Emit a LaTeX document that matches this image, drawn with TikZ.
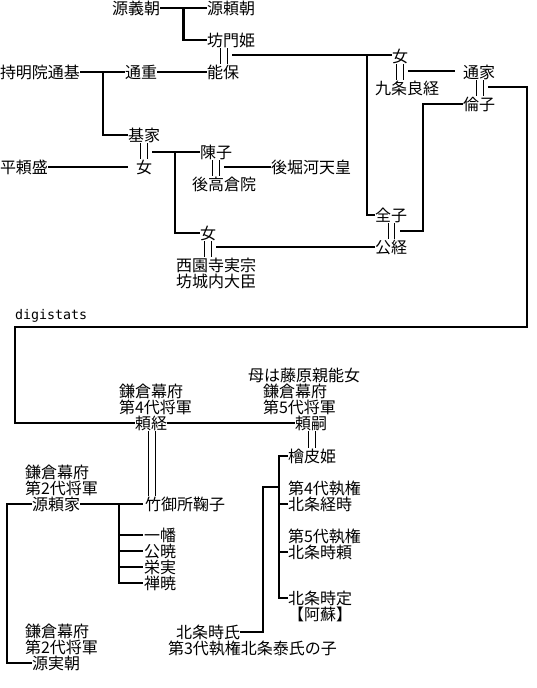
\documentclass[tikz,border=0pt]{standalone}
\usepackage{fontspec}
\setmainfont{Noto Sans CJK JP}
\newfontfamily\monof{DejaVu Sans Mono}
\usetikzlibrary{calc}
\tikzset{
  nm/.style={inner sep=0pt, outer sep=0pt, anchor=west, text height=14pt, text depth=2pt, font=\fontsize{16pt}{16pt}\selectfont},
  ln/.style={line width=2.4pt},
  dl/.style={line width=1pt},
}
\begin{document}
\begin{tikzpicture}[x=1pt,y=-1pt]
\fill[white] (0,0) rectangle (536,688);
\useasboundingbox (0,0) rectangle (536,688);
% upper part
\node[nm] (yoshitomo) at (112,8) {源義朝};
\node[nm] (yoritomo) at (207,8) {源頼朝};
\node[nm] (bomon) at (207,40) {坊門姫};
\node[nm] (yoshiyasu) at (207,72) {能保};
\node[nm] (michimoto) at (0,72) {持明院通基};
\node[nm] (michishige) at (125,72) {通重};
\node[nm] (motoie) at (128,135) {基家};
\node[nm] (onnaA) at (136,167) {女};
\node[nm] (yorimori) at (0,167) {平頼盛};
\node[nm] (nobuko) at (200,152) {陳子};
\node[nm] (gotakakura) at (192,184) {後高倉院};
\node[nm] (gohorikawa) at (271,167) {後堀河天皇};
\node[nm] (onnaB) at (200,233) {女};
\node[nm] (sanemune) at (176,265) {西園寺実宗};
\node[nm] (bojo) at (176,281) {坊城内大臣};
\node[nm] (onnaC) at (392,56) {女};
\node[nm] (kujo) at (375,88) {九条良経};
\node[nm] (michiie) at (463,72) {通家};
\node[nm] (rinshi) at (463,104) {倫子};
\node[nm] (zenshi) at (375,215) {全子};
\node[nm] (kintsune) at (375,247) {公経};
\node[nm, font=\monof\fontsize{13.3pt}{14pt}\selectfont] (digi) at (15,313) {digistats};
% lower part
\node[nm] (k4a) at (119,391) {鎌倉幕府};
\node[nm] (k4b) at (119,407) {第4代将軍};
\node[nm] (yoritsune) at (135,423) {頼経};
\node[nm] (haha) at (248,375) {母は藤原親能女};
\node[nm] (k5a) at (263,391) {鎌倉幕府};
\node[nm] (k5b) at (263,407) {第5代将軍};
\node[nm] (yoritsugu) at (295,423) {頼嗣};
\node[nm] (hiwada) at (288,456) {檜皮姫};
\node[nm] (k2a) at (25,472) {鎌倉幕府};
\node[nm] (k2b) at (25,488) {第2代将軍};
\node[nm] (yoriie) at (32,504) {源頼家};
\node[nm] (take) at (145,504) {竹御所鞠子};
\node[nm] (ichiman) at (144,535) {一幡};
\node[nm] (kugyo) at (144,551) {公暁};
\node[nm] (eijitsu) at (144,567) {栄実};
\node[nm] (zengyo) at (144,583) {禅暁};
\node[nm] (sh4) at (288,488) {第4代執権};
\node[nm] (tsunetoki) at (288,504) {北条経時};
\node[nm] (sh5) at (288,536) {第5代執権};
\node[nm] (tokiyori) at (288,552) {北条時頼};
\node[nm] (tokisada) at (288,598) {北条時定};
\node[nm] (aso) at (288,614) {【阿蘇】};
\node[nm] (tokiuji) at (176,632) {北条時氏};
\node[nm] (tokiujiB) at (168,648) {第3代執権北条泰氏の子};
\node[nm] (k2c) at (25,631) {鎌倉幕府};
\node[nm] (k2d) at (25,647) {第2代将軍};
\node[nm] (sanetomo) at (32,663) {源実朝};

% ---- connectors, upper part
\coordinate (c1) at ($(yoshitomo.east)!0.5!(yoritomo.west)$);
\draw[ln] (yoshitomo.east) -- (yoritomo.west);
\draw[ln] (c1) |- (bomon.west);
\foreach \d in {13,20} {\coordinate (t) at ($(bomon.south west)+(\d,0)$); \draw[dl] (t) -- (t |- yoshiyasu.north);}
\coordinate (m1) at ($(bomon.south west)+(25,7)$);
\draw[ln] (m1) -- (m1 -| onnaC.west);
\coordinate (c2) at ($(onnaC.west)+(-25,0)$);
\draw[ln] (c2 |- m1) |- (zenshi.west);

\draw[ln] (michimoto.east) -- (michishige.west);
\draw[ln] (michishige.east) -- (yoshiyasu.west);
\coordinate (c3) at ($(michimoto.east)+(23,0)$);
\draw[ln] (c3) |- (motoie.west);

\foreach \d in {12,19} {\coordinate (t) at ($(motoie.south west)+(\d,0)$); \draw[dl] (t) -- (t |- onnaA.north);}
\coordinate (m2) at ($(motoie.south west)+(24,0)$);
\draw[ln] (m2 |- nobuko.west) -- (nobuko.west);
\draw[ln] (yorimori.east) -- ($(onnaA.west)+(-8,0)$);
\coordinate (c4) at ($(nobuko.west)+(-25,0)$);
\draw[ln] (c4) |- (onnaB.west);

\foreach \d in {12,19} {\coordinate (t) at ($(nobuko.south west)+(\d,0)$); \draw[dl] (t) -- (t |- gotakakura.north);}
\coordinate (m3) at ($(nobuko.south west)+(24,0)$);
\draw[ln] (m3 |- gohorikawa.west) -- (gohorikawa.west);

\foreach \d in {4,11} {\coordinate (t) at ($(onnaB.south west)+(\d,0)$); \draw[dl] (t) -- (t |- sanemune.north);}
\coordinate (m4) at ($(onnaB.south west)+(16,0)$);
\draw[ln] (m4 |- kintsune.west) -- (kintsune.west);

\foreach \d in {4,11} {\coordinate (t) at ($(onnaC.south west)+(\d,0)$); \draw[dl] (t) -- (t |- kujo.north);}
\coordinate (m5) at ($(onnaC.south west)+(16,7)$);
\coordinate (m5e) at ($(michiie.west)+(-8,0)$);
\draw[ln] (m5) -- (m5 -| m5e);

\foreach \d in {13,20} {\coordinate (t) at ($(michiie.south west)+(\d,0)$); \draw[dl] (t) -- (t |- rinshi.north);}
\coordinate (m6) at ($(michiie.south west)+(25,7)$);
\coordinate (r1) at (527,327);
\coordinate (r2) at (15,327);
\draw[ln] (m6) -| (r1) -- (r2) |- (yoritsune.west);

\foreach \d in {13,19} {\coordinate (t) at ($(zenshi.south west)+(\d,0)$); \draw[dl] (t) -- (t |- kintsune.north);}
\coordinate (m7) at ($(zenshi.south west)+(25,8)$);
\coordinate (m7e) at ($(rinshi.west)+(-40,0)$);
\draw[ln] (m7) -| (m7e) -- (rinshi.west);

% ---- connectors, lower part
\draw[ln] (yoritsune.east) -- (yoritsugu.west);
\foreach \d in {13,20} {\coordinate (t) at ($(yoritsune.south west)+(\d,0)$); \draw[dl] (t) -- (t |- take.north);}
\foreach \d in {13,20} {\coordinate (t) at ($(yoritsugu.south west)+(\d,0)$); \draw[dl] (t) -- (t |- hiwada.north);}

\draw[ln] (yoriie.east) -- ($(take.west)+(-2,0)$);
\coordinate (c8) at ($(take.west)+(-26,0)$);
\draw[ln] (c8) |- ($(zengyo.west)+(-1,0)$);
\foreach \n in {ichiman,kugyo,eijitsu} \draw[ln] (c8 |- \n.west) -- ($(\n.west)+(-1,0)$);

\coordinate (c9) at ($(yoriie.west)+(-25,0)$);
\draw[ln] (yoriie.west) -- (c9) |- (sanetomo.west);

\coordinate (c10) at ($(hiwada.west)+(-9,0)$);
\draw[ln] (hiwada.west) -- (c10) |- (tokisada.west);
\foreach \n in {tsunetoki,tokiyori} \draw[ln] (c10 |- \n.west) -- (\n.west);
\coordinate (c11) at ($(tokiuji.east)+(23,0)$);
\coordinate (c12) at ($(c10)+(0,31)$);
\draw[ln] (tokiuji.east) -- (c11) |- (c12);
\end{tikzpicture}
\end{document}
